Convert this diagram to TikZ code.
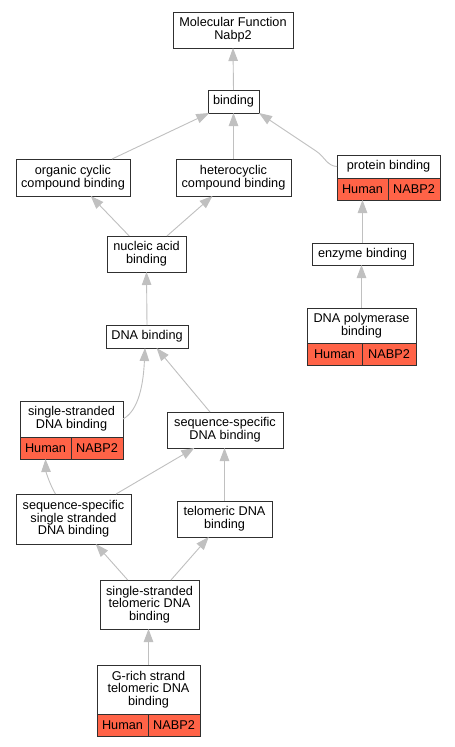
\documentclass[tikz,border=0pt]{standalone}
\usepackage{fontspec}
\setmainfont{Liberation Sans}
\usetikzlibrary{arrows.meta,calc}
\definecolor{edgegray}{HTML}{C0C0C0}
\definecolor{boxline}{HTML}{303030}
\definecolor{hitred}{HTML}{FF6347}
\begin{document}
\begin{tikzpicture}[x=1pt,y=-1pt,
  box/.style={draw=boxline, line width=1pt, fill=white, rectangle, inner sep=0pt, outer sep=0pt, align=center, font=\fontsize{12.7}{12.7}\selectfont},
  cell/.style={box, fill=hitred},
  edge/.style={draw=edgegray, line width=0.9pt, -{Triangle[length=13pt,width=9.5pt,fill=edgegray]}}]
\useasboundingbox (0,0) rectangle (455,747);
\fill[white] (0,0) rectangle (455,747);
% nodes
\node[box, minimum width=120pt, minimum height=36pt] (mf) at (233,30) {Molecular Function\\Nabp2};
\node[box, minimum width=51pt, minimum height=23pt] (bind) at (233.5,101.5) {binding};
\node[box, minimum width=114pt, minimum height=37pt] (org) at (73,177.5) {organic cyclic\\compound binding};
\node[box, minimum width=115pt, minimum height=37pt] (het) at (233.5,177.5) {heterocyclic\\compound binding};
\node[box, minimum width=103pt, minimum height=23pt] (prot) at (388.5,166.5) {protein binding};
\node[cell, minimum width=51pt, minimum height=22pt] (protH) at (362.5,189) {Human};
\node[cell, minimum width=52pt, minimum height=22pt] (protN) at (414,189) {NABP2};
\node[box, minimum width=79pt, minimum height=36pt] (nuc) at (146.5,254) {nucleic acid\\binding};
\node[box, minimum width=101pt, minimum height=22pt] (enz) at (362.5,254) {enzyme binding};
\node[box, minimum width=82pt, minimum height=23pt] (dna) at (147,336.5) {DNA binding};
\node[box, minimum width=109pt, minimum height=35pt] (pol) at (361.5,325.5) {DNA polymerase\\binding};
\node[cell, minimum width=55pt, minimum height=22pt] (polH) at (334.5,354) {Human};
\node[cell, minimum width=54pt, minimum height=22pt] (polN) at (389,354) {NABP2};
\node[box, minimum width=103pt, minimum height=36pt] (ss) at (71.5,419) {single-stranded\\DNA binding};
\node[cell, minimum width=51pt, minimum height=22pt] (ssH) at (45.5,448) {Human};
\node[cell, minimum width=52pt, minimum height=22pt] (ssN) at (97,448) {NABP2};
\node[box, minimum width=116pt, minimum height=36pt] (seqdna) at (225,430) {sequence-specific\\DNA binding};
\node[box, minimum width=115pt, minimum height=50pt] (seqss) at (73.5,519) {sequence-specific\\single stranded\\DNA binding};
\node[box, minimum width=95pt, minimum height=36pt] (tel) at (224.5,519) {telomeric DNA\\binding};
\node[box, minimum width=99pt, minimum height=49pt] (sstel) at (149.5,604.5) {single-stranded\\telomeric DNA\\binding};
\node[box, minimum width=103pt, minimum height=49pt] (grich) at (148.5,689.5) {G-rich strand\\telomeric DNA\\binding};
\node[cell, minimum width=51pt, minimum height=22pt] (grichH) at (122.5,725) {Human};
\node[cell, minimum width=52pt, minimum height=22pt] (grichN) at (174,725) {NABP2};
% edges
\draw[edge] (bind.north) -- (mf.south);
\draw[edge] (org) -- (bind);
\draw[edge] (het.north) -- (bind.south);
\draw[edge] (prot.west) .. controls (327,166) and (325,157) .. (316,151) -- (bind.south east);
\draw[edge] (nuc) -- (org);
\draw[edge] (nuc) -- (het);
\draw[edge] (enz.north) -- (enz.north |- protH.south);
\draw[edge] (pol.north) -- (pol.north |- enz.south);
\draw[edge] (dna.north) -- (nuc.south);
\draw[edge] (ss.east) .. controls (136,412) and (143,392) .. ($(dna.south)+(-2,0)$);
\draw[edge] (seqdna) -- (dna);
\draw[edge] ($(seqss.north)+(-18,0)$) .. controls (50,485) and (46,472) .. (ssH.south);
\draw[edge] (seqss) -- (seqdna);
\draw[edge] (tel.north) -- (tel.north |- seqdna.south);
\draw[edge] (sstel) -- (seqss);
\draw[edge] (sstel) -- (tel);
\draw[edge] (grich.north) -- (grich.north |- sstel.south);
\end{tikzpicture}
\end{document}
